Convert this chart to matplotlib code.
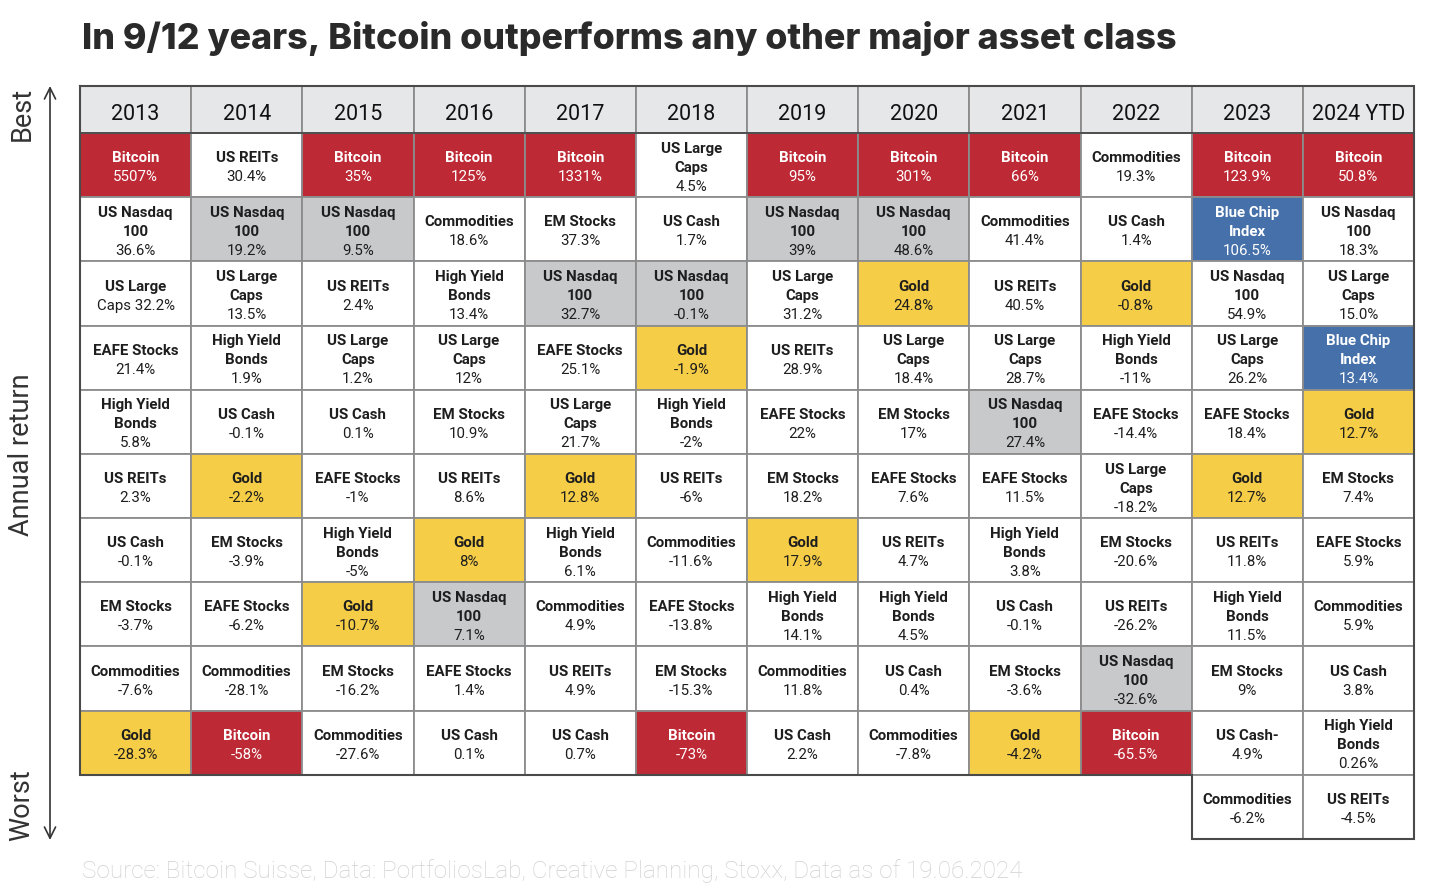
import matplotlib
matplotlib.use("Agg")
import matplotlib.pyplot as plt
from matplotlib.patches import Rectangle

# ---------------- data ----------------
years = ["2013", "2014", "2015", "2016", "2017", "2018", "2019", "2020",
         "2021", "2022", "2023", "2024 YTD"]

names = [
    ["Bitcoin", "US Nasdaq\n100", "US Large", "EAFE Stocks", "High Yield\nBonds", "US REITs",
     "US Cash", "EM Stocks", "Commodities", "Gold"],
    ["US REITs", "US Nasdaq\n100", "US Large\nCaps", "High Yield\nBonds", "US Cash", "Gold",
     "EM Stocks", "EAFE Stocks", "Commodities", "Bitcoin"],
    ["Bitcoin", "US Nasdaq\n100", "US REITs", "US Large\nCaps", "US Cash", "EAFE Stocks",
     "High Yield\nBonds", "Gold", "EM Stocks", "Commodities"],
    ["Bitcoin", "Commodities", "High Yield\nBonds", "US Large\nCaps", "EM Stocks", "US REITs",
     "Gold", "US Nasdaq\n100", "EAFE Stocks", "US Cash"],
    ["Bitcoin", "EM Stocks", "US Nasdaq\n100", "EAFE Stocks", "US Large\nCaps", "Gold",
     "High Yield\nBonds", "Commodities", "US REITs", "US Cash"],
    ["US Large\nCaps", "US Cash", "US Nasdaq\n100", "Gold", "High Yield\nBonds", "US REITs",
     "Commodities", "EAFE Stocks", "EM Stocks", "Bitcoin"],
    ["Bitcoin", "US Nasdaq\n100", "US Large\nCaps", "US REITs", "EAFE Stocks", "EM Stocks",
     "Gold", "High Yield\nBonds", "Commodities", "US Cash"],
    ["Bitcoin", "US Nasdaq\n100", "Gold", "US Large\nCaps", "EM Stocks", "EAFE Stocks",
     "US REITs", "High Yield\nBonds", "US Cash", "Commodities"],
    ["Bitcoin", "Commodities", "US REITs", "US Large\nCaps", "US Nasdaq\n100", "EAFE Stocks",
     "High Yield\nBonds", "US Cash", "EM Stocks", "Gold"],
    ["Commodities", "US Cash", "Gold", "High Yield\nBonds", "EAFE Stocks", "US Large\nCaps",
     "EM Stocks", "US REITs", "US Nasdaq\n100", "Bitcoin"],
    ["Bitcoin", "Blue Chip\nIndex", "US Nasdaq\n100", "US Large\nCaps", "EAFE Stocks", "Gold",
     "US REITs", "High Yield\nBonds", "EM Stocks", "US Cash-", "Commodities"],
    ["Bitcoin", "US Nasdaq\n100", "US Large\nCaps", "Blue Chip\nIndex", "Gold", "EM Stocks",
     "EAFE Stocks", "Commodities", "US Cash", "High Yield\nBonds", "US REITs"],
]

returns = [
    ["5507%", "36.6%", "Caps 32.2%", "21.4%", "5.8%", "2.3%", "-0.1%", "-3.7%", "-7.6%", "-28.3%"],
    ["30.4%", "19.2%", "13.5%", "1.9%", "-0.1%", "-2.2%", "-3.9%", "-6.2%", "-28.1%", "-58%"],
    ["35%", "9.5%", "2.4%", "1.2%", "0.1%", "-1%", "-5%", "-10.7%", "-16.2%", "-27.6%"],
    ["125%", "18.6%", "13.4%", "12%", "10.9%", "8.6%", "8%", "7.1%", "1.4%", "0.1%"],
    ["1331%", "37.3%", "32.7%", "25.1%", "21.7%", "12.8%", "6.1%", "4.9%", "4.9%", "0.7%"],
    ["4.5%", "1.7%", "-0.1%", "-1.9%", "-2%", "-6%", "-11.6%", "-13.8%", "-15.3%", "-73%"],
    ["95%", "39%", "31.2%", "28.9%", "22%", "18.2%", "17.9%", "14.1%", "11.8%", "2.2%"],
    ["301%", "48.6%", "24.8%", "18.4%", "17%", "7.6%", "4.7%", "4.5%", "0.4%", "-7.8%"],
    ["66%", "41.4%", "40.5%", "28.7%", "27.4%", "11.5%", "3.8%", "-0.1%", "-3.6%", "-4.2%"],
    ["19.3%", "1.4%", "-0.8%", "-11%", "-14.4%", "-18.2%", "-20.6%", "-26.2%", "-32.6%", "-65.5%"],
    ["123.9%", "106.5%", "54.9%", "26.2%", "18.4%", "12.7%", "11.8%", "11.5%", "9%", "4.9%", "-6.2%"],
    ["50.8%", "18.3%", "15.0%", "13.4%", "12.7%", "7.4%", "5.9%", "5.9%", "3.8%", "0.26%", "-4.5%"],
]

# R = Bitcoin red, Y = gold, B = blue chip, G = grey (Nasdaq), W = white
highlight = [
    "RWWWWWWWWY",
    "WGWWWYWWWR",
    "RGWWWWWYWW",
    "RWWWWWYGWW",
    "RWGWWYWWWW",
    "WWGYWWWWWR",
    "RGWWWWYWWW",
    "RGYWWWWWWW",
    "RWWWGWWWWY",
    "WWYWWWWWGR",
    "RBWWWYWWWWW",
    "RWWBYWWWWWW",
]

title = "In 9/12 years, Bitcoin outperforms any other major asset class"
source = "Source: Bitcoin Suisse, Data: PortfoliosLab, Creative Planning, Stoxx, Data as of 19.06.2024"

# ---------------- style ----------------
FILL = {"R": "#BD2A35", "Y": "#F6CD46", "B": "#4670AA", "G": "#C8C9CB", "W": "#FFFFFF"}
TXT = {"R": "#FFFFFF", "Y": "#1E1E1E", "B": "#FFFFFF", "G": "#1E1E1E", "W": "#1E1E1E"}
FONT = ["Roboto", "DejaVu Sans"]
plt.rcParams["font.family"] = FONT

W, H = 1434, 896
fig = plt.figure(figsize=(W / 100, H / 100), dpi=100)
fig.patch.set_facecolor("white")

# table area in pixels
tx0, tx1, ty0, ty1 = 80, 1414, 86, 839
hdr = 47 / 64.2                  # header height in row units
nrows = 11
ax = fig.add_axes([tx0 / W, 1 - ty1 / H, (tx1 - tx0) / W, (ty1 - ty0) / H])
ax.set_xlim(0, len(years))
ax.set_ylim(nrows, -hdr)
ax.axis("off")

grid_c = "#8C8C8C"
edge_c = "#4A4A4A"
lw_in = 1.3

# header
for j, yr in enumerate(years):
    ax.add_patch(Rectangle((j, -hdr), 1, hdr, facecolor="#E6E7E9", edgecolor=grid_c, lw=lw_in))
    ax.text(j + 0.5, -hdr / 2 + 0.075, yr, ha="center", va="center", fontsize=15.5,
            color="#111111")

line_step = 19 / 64.2
for j in range(len(years)):
    for i, (nm, val) in enumerate(zip(names[j], returns[j])):
        k = highlight[j][i]
        ax.add_patch(Rectangle((j, i), 1, 1, facecolor=FILL[k], edgecolor=grid_c, lw=lw_in))
        lines = nm.split("\n")
        n = len(lines) + 1
        for li, t in enumerate(lines + [val]):
            y = i + 0.54 + (li - (n - 1) / 2) * line_step
            bold = li < len(lines)
            ax.text(j + 0.5, y, t, ha="center", va="center", fontsize=10.8,
                    fontweight="bold" if bold else "normal", color=TXT[k])

# darker outer outline
outline_x = [0, 12, 12, 10, 10, 0, 0]
outline_y = [-hdr, -hdr, 11, 11, 10, 10, -hdr]
ax.plot(outline_x, outline_y, color=edge_c, lw=1.5, solid_joinstyle="miter", clip_on=False)
ax.plot([0, 12], [0, 0], color=edge_c, lw=1.3, clip_on=False)

# overlay for title / annotations (pixel coordinates)
ov = fig.add_axes([0, 0, 1, 1], zorder=-1)
ov.set_xlim(0, W)
ov.set_ylim(H, 0)
ov.axis("off")

ov.text(82, 38, title, ha="left", va="center", fontsize=25.8, fontweight="heavy",
        color="#2A2A2A", family=["Inter", "DejaVu Sans"])
ov.text(22, 114, "Best", rotation=90, ha="center", va="center", fontsize=19.5, color="#333333")
ov.text(22, 455, "Annual return", rotation=90, ha="center", va="center", fontsize=19.5,
        color="#333333")
ov.text(22, 805, "Worst", rotation=90, ha="center", va="center", fontsize=19.5, color="#333333")
ov.annotate("", xy=(50, 86), xytext=(50, 840),
            arrowprops=dict(arrowstyle="<->,head_length=0.8,head_width=0.4", color="#333333",
                            lw=1.2, shrinkA=0, shrinkB=0))
ov.text(82, 871, source, ha="left", va="center", fontsize=17.5, fontweight="light",
        color="#D0D0D0")

fig.savefig("out.png", dpi=100, facecolor="white")
